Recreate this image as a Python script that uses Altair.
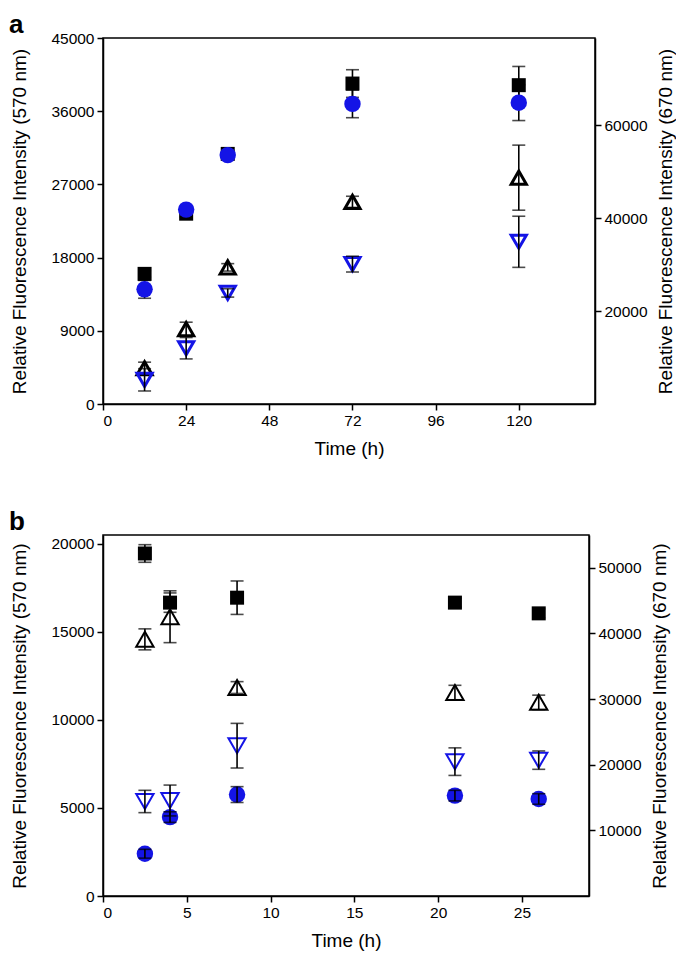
import altair as alt
import pandas as pd

BLUE = "#1414e6"
FONT = "Liberation Sans"

# ---------------- Panel a ----------------
a_time = [12, 24, 36, 72, 120]
a_square = [16000, 23400, 30750, 39400, 39200]
a_square_err = [400, 400, 400, 1700, 2300]
a_circle = [14100, 23900, 30600, 36900, 37050]
a_circle_err = [1100, 400, 400, 1700, 2200]
a_tri_up = [7700, 16100, 29400, 43500, 48700]          # right axis (670 nm)
a_tri_up_err = [1300, 1500, 800, 1200, 7000]
a_tri_down = [5200, 12000, 23900, 30100, 34900]        # right axis (670 nm)
a_tri_down_err = [2400, 2300, 900, 1700, 5500]

a_x_ticks = [0, 24, 48, 72, 96, 120]
a_left_ticks = [0, 9000, 18000, 27000, 36000, 45000]
a_right_ticks = [20000, 40000, 60000]

# ---------------- Panel b ----------------
b_time = [2.5, 4, 8, 21, 26]
b_square = [19450, 16660, 16940, 16660, 16050]
b_square_err = [500, 550, 950, 250, 250]
b_circle = [2400, 4480, 5760, 5700, 5510]
b_circle_err = [250, 300, 450, 300, 300]
b_tri_up = [39100, 42550, 31760, 31000, 29500]
b_tri_up_err = [1600, 3950, 900, 1100, 1100]
b_tri_down = [14400, 14550, 22900, 20470, 20700]
b_tri_down_err = [1700, 2350, 3400, 2100, 1400]

b_x_ticks = [0, 5, 10, 15, 20, 25]
b_left_ticks = [0, 5000, 10000, 15000, 20000]
b_right_ticks = [10000, 20000, 30000, 40000, 50000]

LEFT_TITLE = "Relative Fluorescence Intensity (570 nm)"
RIGHT_TITLE = "Relative Fluorescence Intensity (670 nm)"


def frame(t, v, e):
    return pd.DataFrame({"t": t, "v": v, "lo": [a - b for a, b in zip(v, e)],
                         "hi": [a + b for a, b in zip(v, e)]})


def panel(t, sq, sqe, ci, cie, tu, tue, td, tde, xdom, xticks, ldom, lticks,
          rdom, rticks, w, h, letter, letter_y, letter_x, tri_size, tri_sw,
          errors_behind):
    X = alt.X("t:Q", scale=alt.Scale(domain=xdom, nice=False, zero=True),
              axis=alt.Axis(values=xticks, title="Time (h)", format="d", titlePadding=11))

    def YL(f):
        return alt.Y(f"{f}:Q", scale=alt.Scale(domain=ldom, nice=False, zero=True),
                     axis=alt.Axis(values=lticks, title=LEFT_TITLE, format="d",
                                   orient="left", titlePadding=21))

    def YR(f):
        return alt.Y(f"{f}:Q", scale=alt.Scale(domain=rdom, nice=False, zero=True),
                     axis=alt.Axis(values=rticks, title=RIGHT_TITLE, format="d",
                                   orient="right", titlePadding=9, titleAngle=270,
                                   titleBaseline="top"))

    def series_layers(df, Y, point, behind):
        base = alt.Chart(df)
        pts = base.mark_point(**point).encode(x=X, y=Y("v"))
        rule = base.mark_rule(color="black", strokeWidth=1.6).encode(x=X, y=Y("lo"), y2="hi:Q")
        cap_lo = base.mark_tick(orient="horizontal", color="black", size=13,
                                thickness=1.6).encode(x=X, y=Y("lo"))
        cap_hi = base.mark_tick(orient="horizontal", color="black", size=13,
                                thickness=1.6).encode(x=X, y=Y("hi"))
        if behind:
            return [rule, cap_lo, cap_hi, pts]
        return [pts, rule, cap_lo, cap_hi]

    sq_df = frame(t, sq, sqe)
    ci_df = frame(t, ci, cie)
    tu_df = frame(t, tu, tue)
    td_df = frame(t, td, tde)

    left = alt.layer(
        *series_layers(sq_df, YL, dict(shape="square", filled=True, color="black",
                                       size=196, opacity=1), errors_behind),
        *series_layers(ci_df, YL, dict(shape="circle", filled=True, color=BLUE,
                                       size=270, opacity=1), errors_behind),
    )
    right = alt.layer(
        *series_layers(tu_df, YR, dict(shape="triangle-up", filled=False, color="black",
                                       size=tri_size, strokeWidth=tri_sw, opacity=1), False),
        *series_layers(td_df, YR, dict(shape="triangle-down", filled=False, color=BLUE,
                                       size=tri_size, strokeWidth=tri_sw, opacity=1), False),
    )
    lab = alt.Chart(pd.DataFrame({"label": [letter]})).mark_text(
        font=FONT, fontSize=26, fontWeight="bold", align="left",
        baseline="top", color="black"
    ).encode(text="label:N", x=alt.value(letter_x), y=alt.value(letter_y))

    return alt.layer(left, right, lab).resolve_scale(y="independent").properties(
        width=w, height=h)


pa = panel(a_time, a_square, a_square_err, a_circle, a_circle_err, a_tri_up,
           a_tri_up_err, a_tri_down, a_tri_down_err, [0, 142], a_x_ticks,
           [0, 45000], a_left_ticks, [0, 78750], a_right_ticks, 492, 366,
           "a", -26, -94, 230, 3, True)
pb = panel(b_time, b_square, b_square_err, b_circle, b_circle_err, b_tri_up,
           b_tri_up_err, b_tri_down, b_tri_down_err, [0, 29], b_x_ticks,
           [0, 20500], b_left_ticks, [0, 55000], b_right_ticks, 486, 361,
           "b", -26, -94, 300, 2, False)

chart = alt.vconcat(pa, pb, spacing=48).properties(
    background="white", padding={"left": 0, "top": 3, "right": 0, "bottom": 0}
).configure_axis(
    labelFont=FONT, titleFont=FONT, labelFontSize=15.5, titleFontSize=19,
    titleFontWeight="normal", labelColor="black", titleColor="black",
    tickColor="black", domainColor="black", tickSize=6, tickWidth=1.5,
    domainWidth=1.5, grid=False, labelPadding=3
).configure_view(stroke="black", strokeWidth=1.5)

chart.save("out.html", embed_options={"renderer": "svg", "actions": False})
